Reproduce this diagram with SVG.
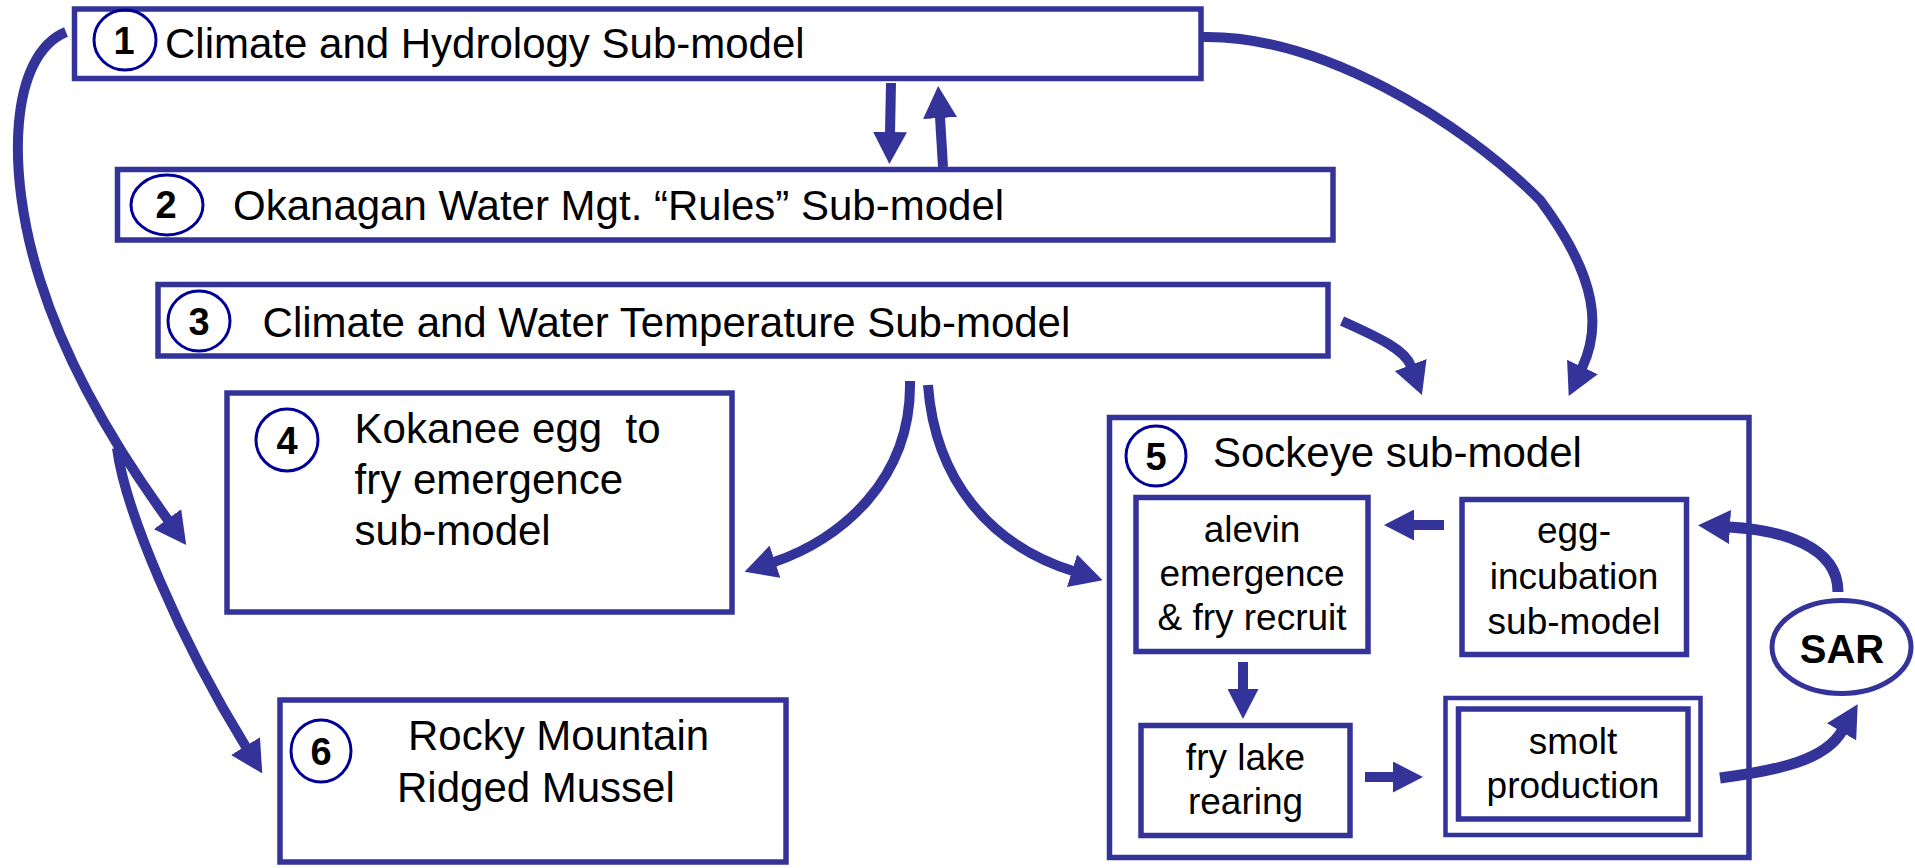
<svg xmlns="http://www.w3.org/2000/svg" width="1915" height="868" viewBox="0 0 1915 868">
<style>
.box{fill:#fff;stroke:#333399;stroke-width:5.5}
.num{fill:none;stroke:#000099;stroke-width:3}
.t{font-family:"Liberation Sans",Arial,sans-serif;font-size:42px;fill:#000}
.s{font-family:"Liberation Sans",Arial,sans-serif;font-size:37px;fill:#000;text-anchor:middle}
.d{font-family:"Liberation Sans",Arial,sans-serif;font-size:38px;font-weight:bold;fill:#000;text-anchor:middle}
.c{fill:none;stroke:#333399;stroke-width:10}
</style>
<defs>
<marker id="ah" markerUnits="userSpaceOnUse" viewBox="0 0 32 34" markerWidth="32" markerHeight="34" refX="1" refY="17" orient="auto">
<path d="M0,0 L32,17 L0,34 z" fill="#333399"/>
</marker>
<marker id="ahs" markerUnits="userSpaceOnUse" viewBox="0 0 30 31" markerWidth="30" markerHeight="31" refX="1" refY="15.5" orient="auto">
<path d="M0,0 L30,15.5 L0,31 z" fill="#333399"/>
</marker>
</defs>
<rect width="1915" height="868" fill="#fff"/>
<g id="n1">
<rect class="box" x="74.5" y="9" width="1126.5" height="69.5"/>
<ellipse class="num" cx="125" cy="40" rx="31" ry="30"/>
<text class="d" x="124" y="54">1</text>
<text class="t" x="165" y="58">Climate and Hydrology Sub-model</text>
</g>
<g id="n2">
<rect class="box" x="117.5" y="169.5" width="1215.5" height="70.5"/>
<ellipse class="num" cx="167" cy="205" rx="36" ry="30"/>
<text class="d" x="166" y="218">2</text>
<text class="t" x="233" y="220">Okanagan Water Mgt. “Rules” Sub-model</text>
</g>
<g id="n3">
<rect class="box" x="158" y="284.5" width="1170" height="71.5"/>
<ellipse class="num" cx="199" cy="321" rx="31" ry="30"/>
<text class="d" x="199" y="335">3</text>
<text class="t" x="262.6" y="337">Climate and Water Temperature Sub-model</text>
</g>
<g id="n4">
<rect class="box" x="227" y="393" width="505" height="219"/>
<ellipse class="num" cx="287" cy="440" rx="31" ry="31"/>
<text class="d" x="287" y="454">4</text>
<text class="t" x="354.6" y="443" xml:space="preserve">Kokanee egg  to</text>
<text class="t" x="354.6" y="494">fry emergence</text>
<text class="t" x="354.6" y="545">sub-model</text>
</g>
<g id="n5">
<rect class="box" x="1109.5" y="417.5" width="639.5" height="440"/>
<ellipse class="num" cx="1156" cy="456" rx="30" ry="30"/>
<text class="d" x="1156" y="470">5</text>
<text class="t" x="1213" y="467">Sockeye sub-model</text>
</g>
<g id="n5a">
<rect class="box" x="1136" y="497.5" width="232" height="154"/>
<text class="s" x="1252" y="542">alevin</text>
<text class="s" x="1252" y="586">emergence</text>
<text class="s" x="1252" y="630">&amp; fry recruit</text>
</g>
<g id="n5b">
<rect class="box" x="1462" y="499.5" width="224.5" height="155"/>
<text class="s" x="1574" y="543">egg-</text>
<text class="s" x="1574" y="589">incubation</text>
<text class="s" x="1574" y="634">sub-model</text>
</g>
<g id="n5c">
<rect class="box" x="1141" y="725.5" width="209" height="110"/>
<text class="s" x="1245.5" y="770">fry lake</text>
<text class="s" x="1245.5" y="814">rearing</text>
</g>
<g id="n5d">
<rect class="box" style="stroke-width:4.5" x="1445.5" y="698" width="255" height="137"/>
<rect class="box" x="1458.5" y="709" width="229.5" height="110"/>
<text class="s" x="1573" y="754">smolt</text>
<text class="s" x="1573" y="798">production</text>
</g>
<g id="sar">
<ellipse fill="#fff" stroke="#333399" stroke-width="5" cx="1841.5" cy="647" rx="69.5" ry="46.5"/>
<text class="d" style="font-size:40px" x="1842" y="663">SAR</text>
</g>
<g id="n6">
<rect class="box" x="280" y="700" width="506" height="162"/>
<ellipse class="num" cx="321" cy="751" rx="30" ry="31"/>
<text class="d" x="321" y="765">6</text>
<text class="t" x="408" y="750">Rocky Mountain</text>
<text class="t" x="397" y="802">Ridged Mussel</text>
</g>
<g id="connectors">
<path class="c" d="M66,32 C10,55 5,170 40,280 C65,360 110,440 168,520" marker-end="url(#ah)"/>
<path class="c" d="M117,448 C125,510 180,640 246,747" marker-end="url(#ah)"/>
<path class="c" d="M891,83 L890,133" marker-end="url(#ah)"/>
<path class="c" d="M943,167 L940,117" marker-end="url(#ah)"/>
<path class="c" d="M1203,37 C1320,35 1460,120 1540,200 C1600,280 1600,330 1582,368" marker-end="url(#ah)"/>
<path class="c" d="M1342,321 C1380,338 1405,350 1411,366" marker-end="url(#ah)"/>
<path class="c" d="M910,381 C912,480 840,540 774,562" marker-end="url(#ah)"/>
<path class="c" d="M928,385 C935,480 990,545 1073,571" marker-end="url(#ah)"/>
<path class="c" d="M1444,525 L1413,525" marker-end="url(#ahs)"/>
<path class="c" d="M1243,662 L1243,690" marker-end="url(#ahs)"/>
<path class="c" d="M1365,777 L1394,777" marker-end="url(#ahs)"/>
<path class="c" style="stroke-width:11" d="M1720,778 C1780,770 1825,760 1842,731" marker-end="url(#ah)"/>
<path class="c" style="stroke-width:11" d="M1838,592 C1838,545 1780,530 1729,527" marker-end="url(#ah)"/>
</g>
</svg>
